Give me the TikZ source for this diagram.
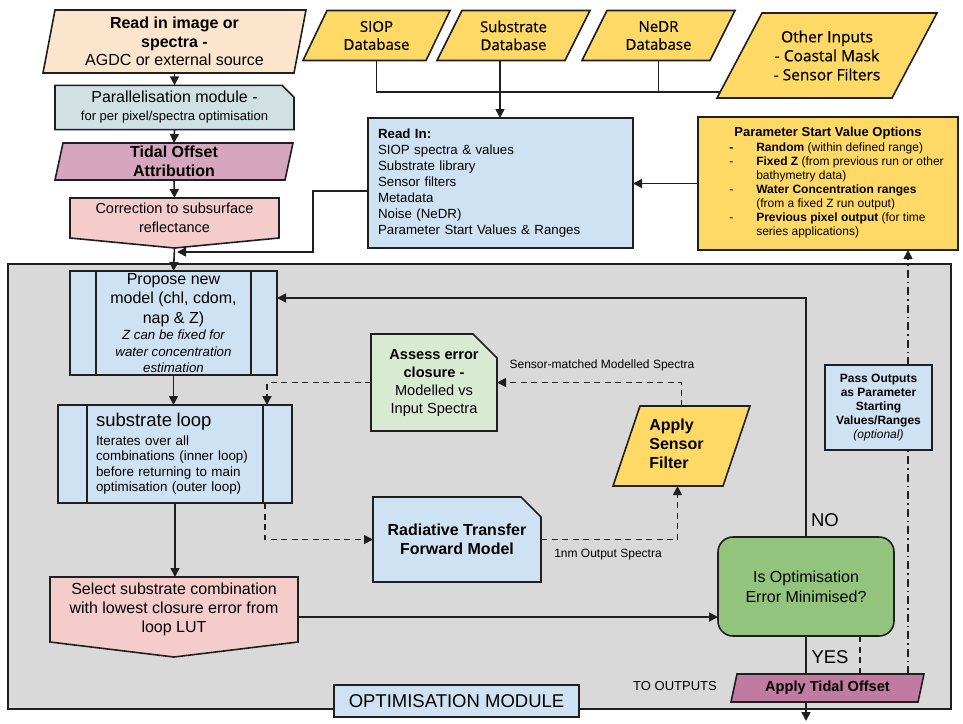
\documentclass[tikz,border=0pt]{standalone}
\usepackage{fontspec}
\setmainfont{Liberation Sans}
\newfontfamily\dbfont{Open Sans}[FakeBold=0.6]
\usetikzlibrary{arrows.meta,shapes.misc}

\definecolor{ink}{HTML}{1F1F1F}
\definecolor{peach}{HTML}{FCE5CD}
\definecolor{paracyan}{HTML}{D0E0E3}
\definecolor{mauve}{HTML}{D5A6BD}
\definecolor{blush}{HTML}{F4CCCC}
\definecolor{gold}{HTML}{FFD966}
\definecolor{skyfill}{HTML}{CFE2F3}
\definecolor{panelgrey}{HTML}{D9D9D9}
\definecolor{mint}{HTML}{D9EAD3}
\definecolor{leaf}{HTML}{93C47D}
\definecolor{plum}{HTML}{C27BA0}

\newcommand\fs[2]{\fontsize{#1}{#2}\selectfont}

\pgfdeclarelayer{panel}
\pgfdeclarelayer{shapes}
\pgfsetlayers{panel,shapes,main}

\tikzset{
  outline/.style={draw=ink, line width=1.6pt},
  area/.style={inner sep=0pt, outer sep=0pt, align=center},
  boxnode/.style={outline, inner sep=0pt, outer sep=0pt, align=center},
  snip/.style={boxnode, chamfered rectangle, chamfered rectangle corners=north east,
    chamfered rectangle xsep=#1, chamfered rectangle ysep=#1},
  link/.style={draw=ink, line width=1.6pt},
  flow/.style={link, -{Triangle[length=9pt,width=9pt]}},
  dlink/.style={link, dash pattern=on 6pt off 4.5pt},
  dflow/.style={flow, dash pattern=on 6pt off 4.5pt},
  ddlink/.style={link, dash pattern=on 8pt off 4pt on 1.5pt off 4pt},
  ddflow/.style={flow, dash pattern=on 8pt off 4pt on 1.5pt off 4pt},
  lbl/.style={inner sep=0pt, outer sep=0pt},
}

% parallelogram outline behind a node: node, slant, fill colour
\newcommand\pgramfill[3]{%
  \begin{pgfonlayer}{shapes}
    \filldraw[outline, fill=#3] ([xshift=#2]#1.north west) -- (#1.north east)
      -- ([xshift=-#2]#1.south east) -- (#1.south west) -- cycle;
  \end{pgfonlayer}}
% off-page pentagon behind a node: node, point depth, fill colour
\newcommand\pentfill[3]{%
  \begin{pgfonlayer}{shapes}
    \filldraw[outline, fill=#3] (#1.north west) -- (#1.north east) -- (#1.south east)
      -- ([yshift=-#2]#1.south) -- (#1.south west) -- cycle;
  \end{pgfonlayer}}
% side bars of a predefined-process box: node, inset
\newcommand\procbars[2]{%
  \draw[outline] ([xshift=#2]#1.north west) -- ([xshift=#2]#1.south west)
    ([xshift=-#2]#1.north east) -- ([xshift=-#2]#1.south east);}

\begin{document}
\begin{tikzpicture}[x=1pt,y=-1pt]
\useasboundingbox (0,0) rectangle (963,723);

% ---------- page and optimisation module panel ----------
\begin{pgfonlayer}{panel}
  \fill[white] (0,0) rectangle (963,723);
  \node[boxnode, fill=panelgrey, minimum width=943pt, minimum height=445pt] (optmod) at (479.5,486.5) {};
\end{pgfonlayer}

% ---------- pre-processing column ----------
\node[area, minimum width=263pt, minimum height=63pt, font=\fs{16}{18.5}] (readimg) at (174.5,41.5)
  {\textbf{Read in image or}\\\textbf{spectra -}\\AGDC or external source};
\pgramfill{readimg}{12pt}{peach}

\node[snip=6pt, fill=paracyan, minimum width=239pt, minimum height=41pt, font=\fs{16}{18}] (para) at (174.5,107.5)
  {Parallelisation module -\\{\fs{13}{15}for per pixel/spectra optimisation}};

\node[area, minimum width=238pt, minimum height=37pt, font=\bfseries\fs{16}{19}] (tideattr) at (174,161.5)
  {Tidal Offset\\Attribution};
\pgramfill{tideattr}{8pt}{mauve}

\node[area, minimum width=209pt, minimum height=40pt, font=\fs{14.5}{19}] (corr) at (174.5,218)
  {Correction to subsurface\\reflectance};
\pentfill{corr}{10pt}{blush}

% ---------- input databases ----------
\node[area, minimum width=147pt, minimum height=50pt, font=\dbfont\fs{15}{18}] (siop) at (376.5,35.5) {SIOP\\Database};
\pgramfill{siop}{24pt}{gold}
\node[area, minimum width=153pt, minimum height=50pt, font=\dbfont\fs{15}{18}] (subdb) at (513.5,35.5) {Substrate\\Database};
\pgramfill{subdb}{25pt}{gold}
\node[area, minimum width=153pt, minimum height=50pt, font=\dbfont\fs{15}{18}] (nedr) at (658.5,35.5) {NeDR\\Database};
\pgramfill{nedr}{25pt}{gold}
\node[area, minimum width=220pt, minimum height=85pt, font=\dbfont\fs{15.5}{19}] (other) at (827,55.5)
  {Other Inputs\\- Coastal Mask\\- Sensor Filters};
\pgramfill{other}{45pt}{gold}

\node[boxnode, fill=skyfill, minimum width=265pt, minimum height=130pt, text width=245pt, align=left,
  font=\fs{13.3}{16}] (readin) at (500.5,183)
  {\textbf{Read In:}\\SIOP spectra \& values\\Substrate library\\Sensor filters\\Metadata\\Noise (NeDR)\\Parameter Start Values \& Ranges};

\node[boxnode, fill=gold, minimum width=260pt, minimum height=133pt, font=\fs{12}{14}] (startopts) at (828,183.5)
  {{\bfseries\fs{13}{15}Parameter Start Value Options}\\[1pt]
   \hspace*{17pt}\begin{tabular}{@{}p{27pt}@{}l@{}}
   \textbf{-} & \textbf{Random} (within defined range)\\
   - & \textbf{Fixed Z} (from previous run or other\\
     & bathymetry data)\\
   - & \textbf{Water Concentration ranges}\\
     & (from a fixed Z run output)\\
   - & \textbf{Previous pixel output} (for time\\
     & series applications)
   \end{tabular}};

% ---------- optimisation loop ----------
\node[boxnode, fill=skyfill, minimum width=207pt, minimum height=104pt, font=\fs{16}{19.5}] (propose) at (173.5,323)
  {Propose new\\model (chl, cdom,\\nap \& Z)\\[-3pt]
   {\itshape\fs{13.3}{16}Z can be fixed for}\\[-3pt]
   {\itshape\fs{13.3}{16}water concentration}\\[-3pt]
   {\itshape\fs{13.3}{16}estimation}};
\procbars{propose}{26pt}

\node[boxnode, fill=skyfill, minimum width=234pt, minimum height=98pt, text width=158pt, align=left,
  font=\fs{13.4}{15.5}] (subloop) at (175,454)
  {{\fs{18.5}{20}substrate loop}\\[3pt]Iterates over all\\combinations (inner loop)\\before returning to main\\optimisation (outer loop)};
\procbars{subloop}{29pt}

\node[snip=12pt, fill=mint, minimum width=126pt, minimum height=97pt, font=\fs{14.6}{18}] (assess) at (434,382.5)
  {\textbf{Assess error}\\\textbf{closure -}\\Modelled vs\\Input Spectra};

\node[area, minimum width=137pt, minimum height=80pt, font=\bfseries\fs{16}{19}] (sensorf) at (681.5,446)
  {\raisebox{-4pt}{\begin{tabular}{@{}l@{}}Apply\\Sensor\\Filter\end{tabular}}\hspace*{10pt}};
\pgramfill{sensorf}{27pt}{gold}

\node[snip=10pt, fill=skyfill, minimum width=168pt, minimum height=85pt, font=\bfseries\fs{16}{19}] (rtm) at (457,539.5)
  {Radiative Transfer\\Forward Model};

\node[area, minimum width=248pt, minimum height=65pt, font=\fs{16}{19}] (select) at (174,609.5)
  {Select substrate combination\\with lowest closure error from\\loop LUT};
\pentfill{select}{15pt}{blush}

\node[boxnode, fill=leaf, rounded corners=15pt, minimum width=176pt, minimum height=99pt, font=\fs{16}{20}] (decide) at (806,586.5)
  {Is Optimisation\\Error Minimised?};

\node[area, minimum width=193pt, minimum height=28pt, font=\bfseries\fs{14.6}{17}] (tideapply) at (827.5,688)
  {Apply Tidal Offset};
\pgramfill{tideapply}{6pt}{plum}

\node[boxnode, fill=skyfill, minimum width=107pt, minimum height=85pt, font=\bfseries\fs{12}{14}] (passout) at (878.5,407.5)
  {Pass Outputs\\as Parameter\\Starting\\Values/Ranges\\{\mdseries\itshape (optional)}};

\node[boxnode, fill=skyfill, minimum width=245pt, minimum height=32pt, font=\fs{18.5}{20}] (modlabel) at (456.5,701)
  {OPTIMISATION MODULE};

% ---------- connector labels ----------
\node[lbl, font=\fs{12}{14}] (smlabel) at (602,365) {Sensor-matched Modelled Spectra};
\node[lbl, font=\fs{12}{14}] (nmlabel) at (608,555) {1nm Output Spectra};
\node[lbl, font=\fs{18.5}{20}] (nolabel) at (825,520) {NO};
\node[lbl, font=\fs{18.5}{20}] (yeslabel) at (830,657) {YES};
\node[lbl, font=\fs{13}{15}] (tolabel) at (675,686) {TO OUTPUTS};

% ---------- routing points ----------
\coordinate (dbbus) at (500,92);
\coordinate (rdturn) at (313,252);
\coordinate (join) at (177,252);
\coordinate (outlet) at (806,721);
\coordinate (returnx) at (908,0);

% ---------- connectors ----------
\draw[flow] (readimg.south) -- (para.north);
\draw[flow] (para.south) -- (tideattr.north);
\draw[flow] (tideattr.south) -- (corr.north);
\draw[flow] ([yshift=-10pt]corr.south) -- (propose.north);
\draw[flow] ([yshift=-8pt]readin.west) -| (rdturn) -- (join);

\draw[link] (siop.south) |- ([xshift=3.2pt,yshift=6pt]other.south west);
\draw[link] (nedr.south) -- (nedr.south |- dbbus);
\draw[flow] (subdb.south -| dbbus) -- (readin.north -| dbbus);
\draw[flow] (startopts.west) -- (startopts.west -| readin.east);

\draw[flow] (decide.north) |- ([yshift=25pt]propose.east);
\draw[flow] (propose.south) -- (propose.south |- subloop.north);
\draw[dflow] (assess.west) -| ([xshift=-25pt]subloop.north east);
\draw[flow] (subloop.south) -- (subloop.south |- select.north);
\draw[dflow] ([xshift=-27pt]subloop.south east) |- (rtm.west);
\draw[dflow] (rtm.east) -| ([xshift=-4pt]sensorf.south);
\draw[dflow] (sensorf.north) |- (assess.east);
\draw[flow] ([yshift=-7.5pt]select.east) -- ([yshift=-7.5pt]select.east -| decide.west);

\draw[link] (decide.south) -- (decide.south |- tideapply.north);
\draw[flow] (tideapply.south -| decide.south) -- (outlet);
\draw[dlink] ([xshift=54pt]decide.south) -- ([xshift=54pt]decide.south |- tideapply.north);
\draw[ddlink] (tideapply.north -| returnx) -- (passout.south -| returnx);
\draw[ddflow] (passout.north -| returnx) -- (startopts.south -| returnx);
\end{tikzpicture}
\end{document}
